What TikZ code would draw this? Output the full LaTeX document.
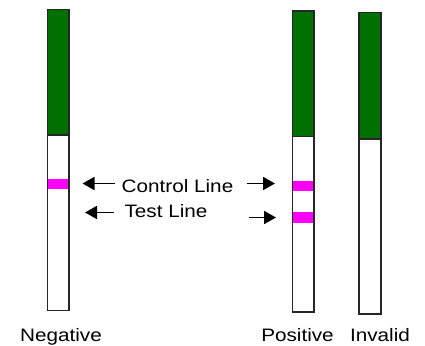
\documentclass[tikz,border=0pt]{standalone}
\usepackage{fontspec}
\setmainfont{Liberation Sans}[FakeStretch=1.15]
\usetikzlibrary{arrows.meta}
\definecolor{stripgreen}{RGB}{0,112,0}
\definecolor{bandmag}{RGB}{255,0,255}
\begin{document}
\begin{tikzpicture}[x=1pt,y=-1pt,
  outline/.style={draw=black!85, line width=1.4pt, inner sep=0pt, outer sep=0pt, anchor=north west},
  greenpart/.style={fill=stripgreen},
  band/.style={fill=bandmag},
  arr/.style={line width=1.8pt, -{Triangle[length=12pt,width=13pt]}},
  lab/.style={font=\fontsize{18}{20}\selectfont, inner sep=0pt, anchor=base}]
\fill[white] (0,0) rectangle (425,345);
\useasboundingbox (0,0) rectangle (425,345);
% Negative strip
\fill[greenpart] (47.5,9.5) rectangle (69,135);
\fill[band] (48,179) rectangle (68.5,189);
\draw[black!85, line width=1.4pt] (47.5,135) -- (69,135);
\node[outline, minimum width=21.5pt, minimum height=301pt] (neg) at (47.5,9.5) {};
% Positive strip
\fill[greenpart] (292.5,11) rectangle (314,136.5);
\fill[band] (293,180.5) rectangle (313.5,190.5);
\fill[band] (293,212) rectangle (313.5,222.5);
\draw[black!85, line width=1.4pt] (292.5,136.5) -- (314,136.5);
\node[outline, minimum width=21.5pt, minimum height=301pt] (pos) at (292.5,11) {};
% Invalid strip
\fill[greenpart] (359,12.5) rectangle (381,139);
\draw[black!85, line width=1.4pt] (359,139) -- (381,139);
\node[outline, minimum width=22pt, minimum height=301.5pt] (inv) at (359,12.5) {};
% labels
\node[lab] (ctl) at (177.5,192) {Control Line};
\node[lab] (tst) at (166,217) {Test Line};
\node[lab] (negl) at (61,341) {Negative};
\node[lab] (posl) at (297.5,341) {Positive};
\node[lab] (invl) at (380,341) {Invalid};
% arrows
\coordinate (a1t) at (115,183.5);
\coordinate (a1h) at (82.5,183.5);
\coordinate (a2t) at (113.5,212.5);
\coordinate (a2h) at (85,212.5);
\coordinate (a3t) at (246.5,183.5);
\coordinate (a3h) at (275,183.5);
\coordinate (a4t) at (249,217.5);
\coordinate (a4h) at (276,217.5);
\draw[arr] (a1t) -- (a1h);
\draw[arr] (a2t) -- (a2h);
\draw[arr] (a3t) -- (a3h);
\draw[arr] (a4t) -- (a4h);
\end{tikzpicture}
\end{document}
